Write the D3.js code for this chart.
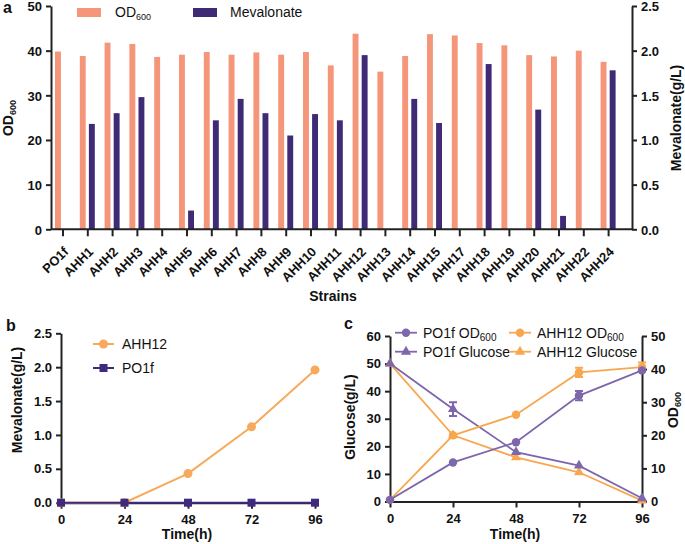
<!DOCTYPE html>
<html lang="en">
<head>
<meta charset="UTF-8">
<title>Mevalonate strains</title>
<script src="https://d3js.org/d3.v7.min.js"></script>
<style>
  body { margin: 0; background: #fff; }
  svg { font-family: "Liberation Sans", Arial, sans-serif; }
  .tick text { font-weight: bold; font-size: 13px; fill: #111; }
  .axis path, .axis line { stroke: #222; stroke-width: 2px; }
  .title { font-weight: bold; font-size: 14px; fill: #111; }
  .panel { font-weight: bold; font-size: 16px; fill: #111; }
  .leg { font-size: 14px; fill: #111; }
</style>
</head>
<body>
<svg id="chart" width="685" height="544"></svg>
<script>
// ---- panel a data ----
const strains = ["PO1f","AHH1","AHH2","AHH3","AHH4","AHH5","AHH6","AHH7","AHH8","AHH9","AHH10","AHH11",
  "AHH12","AHH13","AHH14","AHH15","AHH17","AHH18","AHH19","AHH20","AHH21","AHH22","AHH24"];
const od600 = [39.8,38.8,41.8,41.5,38.6,39.1,39.7,39.1,39.6,39.1,39.7,36.7,
  43.8,35.3,38.8,43.7,43.4,41.7,41.2,39.0,38.7,40.0,37.5];
const mevalonate = [0,1.18,1.30,1.48,0,0.21,1.22,1.46,1.30,1.05,1.29,1.22,
  1.95,0,1.46,1.19,0,1.85,0,1.34,0.15,0,1.78];

// ---- panel b data ----
const timeB = [0,24,48,72,96];
const mevAHH12 = [0,0,0.43,1.12,1.96];
const mevPO1f = [0,0,0,0,0];

// ---- panel c data ----
const timeC = [0,24,48,72,96];
const po1fOD = [0.5,11.8,17.9,32.0,39.6];
const po1fOD_err = [0,0,0,1.4,0];
const ahhOD = [0.5,20.0,26.2,39.0,40.6];
const ahhOD_err = [0,0,0,1.4,1.4];
const po1fGlu = [50,33.5,17.9,13.0,1.2];
const po1fGlu_err = [0,2.5,0,0,0];
const ahhGlu = [50,24.0,16.0,10.6,0.3];
const ahhGlu_err = [0,0,0,0,0];

const salmon = "#f5967a", navy = "#3f2a76";
const orangeB = "#f8a95c", purpleB = "#3f2a7d";
const purpleC = "#7d66ac", orangeC = "#f9a74f";

const svg = d3.select("#chart");

function styleAxis(g) {
  g.attr("class", "axis");
  g.selectAll(".tick line").attr("stroke", "#222");
  return g;
}

// ================= panel a =================
const aTop = 6, aBot = 229.3, aLeft = 51, aRight = 632;
const xA = d3.scaleBand().domain(strains).range([50.6, 621]);
const xSub = d3.scaleBand().domain(["od","mev"]).range([-8, 7]).paddingInner(0.35);
const yA = d3.scaleLinear().domain([0, 50]).range([aBot, aTop]);
const yA2 = d3.scaleLinear().domain([0, 2.5]).range([aBot, aTop]);

const gA = svg.append("g");
gA.selectAll(".odbar").data(strains).join("rect")
  .attr("x", (d) => xA(d) + xA.bandwidth() / 2 + xSub("od"))
  .attr("width", xSub.bandwidth())
  .attr("y", (d, i) => yA(od600[i]))
  .attr("height", (d, i) => aBot - yA(od600[i]))
  .attr("fill", salmon);
gA.selectAll(".mevbar").data(strains).join("rect")
  .attr("x", (d) => xA(d) + xA.bandwidth() / 2 + xSub("mev"))
  .attr("width", xSub.bandwidth())
  .attr("y", (d, i) => yA2(mevalonate[i]))
  .attr("height", (d, i) => aBot - yA2(mevalonate[i]))
  .attr("fill", navy);

const yAxA = gA.append("g").attr("transform", `translate(${aLeft},0)`)
  .call(d3.axisLeft(yA).ticks(5).tickSize(5).tickSizeOuter(0).tickPadding(4)).call(styleAxis);
const yAxA2 = gA.append("g").attr("transform", `translate(${aRight},0)`)
  .call(d3.axisRight(yA2).ticks(5).tickFormat(d3.format(".1f")).tickSize(5).tickSizeOuter(0).tickPadding(4)).call(styleAxis);
yAxA.selectAll(".tick text").attr("dy", "0.38em");
yAxA2.selectAll(".tick text").attr("dy", "0.38em");

const xAxA = gA.append("g").attr("transform", `translate(0,${aBot})`)
  .call(d3.axisBottom(xA).tickSize(7).tickSizeOuter(0)).call(styleAxis);
xAxA.select(".domain").remove();
xAxA.selectAll(".tick text")
  .attr("font-size", "13px")
  .attr("text-anchor", "end")
  .attr("y", 0)
  .attr("dy", "0.35em")
  .attr("transform", "translate(3,20) rotate(-45)");
gA.append("line").attr("x1", aLeft).attr("x2", aRight).attr("y1", aBot).attr("y2", aBot)
  .attr("stroke", "#222").attr("stroke-width", 2);

gA.append("text").attr("class", "panel").attr("x", 3).attr("y", 13).text("a");
gA.append("text").attr("class", "title").attr("x", 333).attr("y", 301).attr("text-anchor", "middle").text("Strains");
const tA = gA.append("text").attr("class", "title").attr("text-anchor", "middle")
  .attr("transform", "translate(13,118) rotate(-90)");
tA.append("tspan").text("OD");
tA.append("tspan").attr("font-size", "9px").attr("dy", "3").text("600");
gA.append("text").attr("class", "title").attr("text-anchor", "middle")
  .attr("transform", "translate(681,118) rotate(-90)").text("Mevalonate(g/L)");

// legend a
gA.append("rect").attr("x", 77).attr("y", 8).attr("width", 24).attr("height", 9).attr("fill", salmon);
const lA = gA.append("text").attr("class", "leg").attr("x", 115).attr("y", 17);
lA.append("tspan").text("OD");
lA.append("tspan").attr("font-size", "9px").attr("dy", "3").text("600");
gA.append("rect").attr("x", 193).attr("y", 8).attr("width", 24).attr("height", 9).attr("fill", navy);
gA.append("text").attr("class", "leg").attr("x", 230).attr("y", 17).text("Mevalonate");

// ================= panel b =================
const bLeft = 61, bRight = 315, bTop = 333.3, bBot = 502.7;
const xB = d3.scaleLinear().domain([0, 96]).range([bLeft, bRight]);
const yB = d3.scaleLinear().domain([0, 2.5]).range([bBot, bTop]);
const gB = svg.append("g");

gB.append("g").attr("transform", `translate(${bLeft},0)`)
  .call(d3.axisLeft(yB).ticks(5).tickFormat(d3.format(".1f")).tickSize(5).tickSizeOuter(0).tickPadding(4)).call(styleAxis);
gB.append("g").attr("transform", `translate(0,${bBot})`)
  .call(d3.axisBottom(xB).tickValues(timeB).tickSize(6).tickSizeOuter(0).tickPadding(6)).call(styleAxis);

const lineB = (vals) => d3.line().x((d, i) => xB(timeB[i])).y((d) => yB(d))(vals);
gB.append("path").attr("d", lineB(mevAHH12)).attr("fill", "none").attr("stroke", orangeB).attr("stroke-width", 2);
gB.selectAll(".cb").data(mevAHH12).join("circle")
  .attr("cx", (d, i) => xB(timeB[i])).attr("cy", (d) => yB(d)).attr("r", 4.5).attr("fill", orangeB);
gB.append("path").attr("d", lineB(mevPO1f)).attr("fill", "none").attr("stroke", purpleB).attr("stroke-width", 2);
gB.selectAll(".sb").data(mevPO1f).join("rect")
  .attr("x", (d, i) => xB(timeB[i]) - 4).attr("y", (d) => yB(d) - 4)
  .attr("width", 8).attr("height", 8).attr("fill", purpleB);

gB.append("text").attr("class", "panel").attr("x", 6).attr("y", 331).text("b");
gB.append("text").attr("class", "title").attr("x", 187).attr("y", 539).attr("text-anchor", "middle").text("Time(h)");
gB.append("text").attr("class", "title").attr("text-anchor", "middle")
  .attr("transform", "translate(22,400) rotate(-90)").text("Mevalonate(g/L)");

// legend b
gB.append("line").attr("x1", 93).attr("x2", 114).attr("y1", 344).attr("y2", 344).attr("stroke", orangeB).attr("stroke-width", 2);
gB.append("circle").attr("cx", 103.5).attr("cy", 344).attr("r", 4.5).attr("fill", orangeB);
gB.append("text").attr("class", "leg").attr("x", 122).attr("y", 349).text("AHH12");
gB.append("line").attr("x1", 93).attr("x2", 114).attr("y1", 368).attr("y2", 368).attr("stroke", purpleB).attr("stroke-width", 2);
gB.append("rect").attr("x", 99.5).attr("y", 364).attr("width", 8).attr("height", 8).attr("fill", purpleB);
gB.append("text").attr("class", "leg").attr("x", 122).attr("y", 373).text("PO1f");

// ================= panel c =================
const cLeft = 390, cRight = 642, cTop = 336, cBot = 501.5;
const xC = d3.scaleLinear().domain([0, 96]).range([cLeft, cRight]);
const yC = d3.scaleLinear().domain([0, 60]).range([cBot, cTop]);
const yC2 = d3.scaleLinear().domain([0, 50]).range([cBot, cTop]);
const gC = svg.append("g");

gC.append("g").attr("transform", `translate(${cLeft},0)`)
  .call(d3.axisLeft(yC).ticks(6).tickSize(5).tickSizeOuter(0).tickPadding(4)).call(styleAxis);
gC.append("g").attr("transform", `translate(${cRight},0)`)
  .call(d3.axisRight(yC2).ticks(5).tickSize(5).tickSizeOuter(0).tickPadding(4)).call(styleAxis);
gC.append("g").attr("transform", `translate(0,${cBot})`)
  .call(d3.axisBottom(xC).tickValues(timeC).tickSize(6).tickSizeOuter(0).tickPadding(6)).call(styleAxis);

const triangle = d3.symbol().type(d3.symbolTriangle).size(45);

function series(vals, errs, y, color, marker) {
  const line = d3.line().x((d, i) => xC(timeC[i])).y((d) => y(d));
  gC.append("path").attr("d", line(vals)).attr("fill", "none").attr("stroke", color).attr("stroke-width", 1.8);
  vals.forEach((v, i) => {
    const e = errs[i];
    if (e > 0) {
      const cx = xC(timeC[i]);
      gC.append("path")
        .attr("d", `M${cx - 4},${y(v + e)}H${cx + 4}M${cx},${y(v + e)}V${y(v - e)}M${cx - 4},${y(v - e)}H${cx + 4}`)
        .attr("stroke", color).attr("stroke-width", 2).attr("fill", "none");
    }
  });
  if (marker === "circle") {
    gC.selectAll(null).data(vals).join("circle")
      .attr("cx", (d, i) => xC(timeC[i])).attr("cy", (d) => y(d)).attr("r", 4.2).attr("fill", color);
  } else {
    gC.selectAll(null).data(vals).join("path")
      .attr("d", triangle)
      .attr("transform", (d, i) => `translate(${xC(timeC[i])},${y(d)})`).attr("fill", color);
  }
}
series(ahhGlu, ahhGlu_err, yC, orangeC, "tri");
series(po1fGlu, po1fGlu_err, yC, purpleC, "tri");
series(ahhOD, ahhOD_err, yC2, orangeC, "circle");
series(po1fOD, po1fOD_err, yC2, purpleC, "circle");

gC.append("text").attr("class", "panel").attr("x", 344).attr("y", 329).text("c");
gC.append("text").attr("class", "title").attr("x", 515).attr("y", 539).attr("text-anchor", "middle").text("Time(h)");
gC.append("text").attr("class", "title").attr("text-anchor", "middle")
  .attr("transform", "translate(355,417) rotate(-90)").text("Glucose(g/L)");
const tC = gC.append("text").attr("class", "title").attr("text-anchor", "middle")
  .attr("transform", "translate(678,410) rotate(-90)");
tC.append("tspan").text("OD");
tC.append("tspan").attr("font-size", "9px").attr("dy", "3").text("600");

// legend c
const legC = [
  { x: 395, y: 332.7, color: purpleC, m: "circle", label: "PO1f OD", sub: "600" },
  { x: 509, y: 332.7, color: orangeC, m: "circle", label: "AHH12 OD", sub: "600" },
  { x: 395, y: 351.7, color: purpleC, m: "tri", label: "PO1f Glucose", sub: "" },
  { x: 509, y: 351.7, color: orangeC, m: "tri", label: "AHH12 Glucose", sub: "" }
];
legC.forEach((l) => {
  gC.append("line").attr("x1", l.x).attr("x2", l.x + 22).attr("y1", l.y).attr("y2", l.y)
    .attr("stroke", l.color).attr("stroke-width", 1.8);
  if (l.m === "circle") {
    gC.append("circle").attr("cx", l.x + 11).attr("cy", l.y).attr("r", 4.2).attr("fill", l.color);
  } else {
    gC.append("path").attr("d", triangle).attr("transform", `translate(${l.x + 11},${l.y})`).attr("fill", l.color);
  }
  const t = gC.append("text").attr("class", "leg").attr("x", l.x + 28).attr("y", l.y + 5);
  t.append("tspan").text(l.label);
  if (l.sub) t.append("tspan").attr("font-size", "10px").attr("dy", "3").text(l.sub);
});
</script>
</body>
</html>
